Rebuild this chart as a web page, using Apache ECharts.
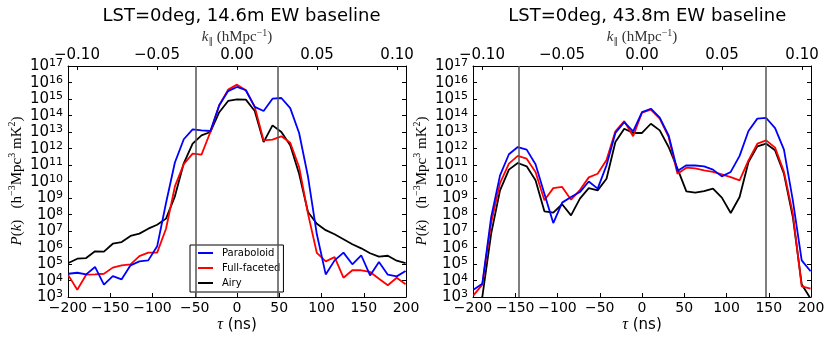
<!DOCTYPE html>
<html>
<head>
<meta charset="utf-8">
<script src="https://cdn.jsdelivr.net/npm/echarts@6/dist/echarts.min.js"></script>
<style>
    html, body { margin: 0; padding: 0; background: #fff; }
    #chart { width: 831px; height: 340px; }
</style>
</head>
<body>
<div id="chart"></div>
<script type="text/javascript">
    // delay samples, ns
    var tau = [-199.5, -189, -178.5, -168, -157.5, -147, -136.5, -126, -115.5, -105,
               -94.5, -84, -73.5, -63, -52.5, -42, -31.5, -21, -10.5, 0,
               10.5, 21, 31.5, 42, 52.5, 63, 73.5, 84, 94.5, 105,
               115.5, 126, 136.5, 147, 157.5, 168, 178.5, 189, 199.5];

    // log10 P(k), 14.6m EW baseline
    var para14 = [4.41, 4.47, 4.37, 4.82, 3.75, 4.27, 4.07, 4.92, 5.16, 5.22,
                  6.07, 8.7, 11.15, 12.56, 13.16, 13.1, 13.06, 14.62, 15.48, 15.73,
                  15.53, 14.52, 14.27, 15.02, 15.06, 14.45, 12.94, 10.3, 6.8, 4.37,
                  5.22, 5.69, 4.98, 5.53, 4.31, 5.12, 4.35, 4.25, 4.58];
    var full14 = [4.31, 3.44, 4.35, 4.37, 4.41, 4.78, 4.92, 4.98, 5.48, 5.69,
                  5.69, 7.14, 9.7, 11.05, 11.69, 11.63, 13.0, 14.62, 15.57, 15.87,
                  15.53, 14.52, 12.49, 12.54, 12.74, 12.35, 10.88, 8.05, 5.67, 5.16,
                  5.42, 4.17, 4.62, 4.62, 4.52, 4.11, 3.71, 4.17, 3.77];
    var airy14 = [5.06, 5.32, 5.36, 5.77, 5.75, 6.23, 6.33, 6.7, 6.84, 7.14,
                  7.38, 7.75, 9.1, 11.1, 12.3, 12.8, 13.0, 14.2, 14.88, 14.98,
                  14.96, 14.27, 12.39, 13.4, 13.0, 12.2, 10.47, 8.15, 7.44, 7.05,
                  6.8, 6.5, 6.2, 5.95, 5.65, 5.45, 5.5, 5.2, 5.05];

    // log10 P(k), 43.8m EW baseline
    var para44 = [3.44, 3.8, 7.84, 10.37, 11.65, 12.09, 11.93, 11.04, 9.26, 7.48,
                  8.72, 9.06, 9.36, 10.0, 9.57, 10.98, 12.94, 13.6, 13.04, 14.21,
                  14.41, 13.87, 12.8, 10.64, 10.98, 10.97, 10.92, 10.72, 10.31, 10.58,
                  11.55, 13.06, 13.81, 13.85, 13.24, 11.93, 8.86, 5.22, 4.56];
    var full44 = [3.1, 3.75, 7.5, 9.9, 11.08, 11.55, 11.38, 10.58, 8.86, 9.6,
                  9.67, 8.9, 9.48, 10.25, 10.47, 11.3, 13.04, 13.66, 12.74, 14.17,
                  14.35, 13.81, 12.7, 10.47, 10.84, 10.8, 10.68, 10.58, 10.43, 10.27,
                  10.07, 11.28, 12.29, 12.49, 12.05, 10.58, 8.05, 3.65, 3.51];
    var airy44 = [1.0, 3.0, 6.84, 9.46, 10.72, 11.12, 10.92, 10.07, 8.19, 8.11,
                  8.62, 7.95, 8.96, 9.6, 9.46, 10.17, 12.39, 13.2, 12.94, 12.94,
                  13.5, 13.1, 12.09, 10.78, 9.4, 9.32, 9.42, 9.57, 9.02, 8.09,
                  9.06, 11.18, 12.13, 12.29, 11.89, 10.47, 7.85, 3.77, 2.9];

    // top axis ticks, k_par in h/Mpc, and the delay that maps to k = 1
    var kTicks = [-0.10, -0.05, 0.00, 0.05, 0.10];
    var nsPerK = 1894;
    // horizon delays of the two baselines
    var horizon14 = 48.7;
    var horizon44 = 146;

    var names = ['Paraboloid', 'Full-faceted', 'Airy'];
    var colors = ['#0000ff', '#ff0000', '#000000'];

    var sans = 'DejaVu Sans';
    var serif = 'Liberation Serif';

    function pairs(vals) {
        return tau.map(function (t, i) { return [t, vals[i]]; });
    }
    function minus(s) {
        return String(s).replace('-', '\u2212');
    }

    var tickStyle = { show: true, inside: true, length: 4, lineStyle: { color: '#000' } };
    var lineAxis = { show: true, onZero: false, lineStyle: { color: '#000', width: 1 } };

    function bottomAxis(grid) {
        return {
            type: 'value', gridIndex: grid, position: 'bottom', min: -200, max: 200, interval: 50,
            axisLine: lineAxis, axisTick: tickStyle, splitLine: { show: false },
            axisLabel: { margin: 4, fontSize: 14, fontFamily: sans, color: '#000',
                showMinLabel: true, showMaxLabel: true,
                formatter: function (v) { return minus(v); } },
            name: '{i|\u03c4}{n| (ns)}', nameLocation: 'middle', nameGap: 20, nameMoveOverlap: false,
            nameTextStyle: { rich: {
                i: { fontFamily: serif, fontStyle: 'italic', fontSize: 16, color: '#000' },
                n: { fontFamily: sans, fontSize: 15, color: '#000' } } }
        };
    }
    function topAxis(grid) {
        return {
            type: 'value', gridIndex: grid, position: 'top',
            min: -200 / nsPerK, max: 200 / nsPerK,
            axisLine: lineAxis, splitLine: { show: false },
            axisTick: { show: true, inside: true, length: 4, customValues: kTicks, lineStyle: { color: '#000' } },
            axisLabel: { margin: 3, fontSize: 15, fontFamily: sans, color: '#000', customValues: kTicks,
                formatter: function (v) { return minus(v.toFixed(2)); } },
            name: '{i|k}{sub|\u2225}{n| (hMpc}{s|\u22121}{n|)}', nameLocation: 'middle', nameGap: 20,
            nameMoveOverlap: false,
            nameTextStyle: { lineHeight: 18, rich: {
                i: { fontFamily: serif, fontStyle: 'italic', fontSize: 15, color: '#333', lineHeight: 18, verticalAlign: 'middle' },
                sub: { fontFamily: sans, fontSize: 9, color: '#333', lineHeight: 9, verticalAlign: 'bottom' },
                n: { fontFamily: serif, fontSize: 15, color: '#333', lineHeight: 18, verticalAlign: 'middle' },
                s: { fontFamily: serif, fontSize: 10, color: '#333', lineHeight: 10, verticalAlign: 'top' } } }
        };
    }
    function leftAxis(grid) {
        return {
            type: 'value', gridIndex: grid, position: 'left', min: 3, max: 17, interval: 1,
            axisLine: lineAxis, axisTick: tickStyle, splitLine: { show: false },
            axisLabel: { margin: 5, color: '#000', showMinLabel: true, showMaxLabel: true,
                formatter: function (v) { return '{b|10}{s|' + v + '}'; },
                rich: {
                    b: { fontFamily: sans, fontSize: 15, lineHeight: 16, verticalAlign: 'bottom', color: '#000' },
                    s: { fontFamily: sans, fontSize: 11, lineHeight: 11, verticalAlign: 'top', color: '#000' } } }
        };
    }
    function rightAxis(grid) {
        return {
            type: 'value', gridIndex: grid, position: 'right', min: 3, max: 17, interval: 1,
            axisLine: lineAxis, axisTick: tickStyle, splitLine: { show: false },
            axisLabel: { show: false }
        };
    }

    // rotated P(k) label beside each panel
    function yTitle(x) {
        return {
            type: 'text', x: x, y: 181, rotation: Math.PI / 2, z: 10,
            style: {
                text: '{i|P}{n|(}{i|k}{n|)   (h}{s|\u22123}{n|Mpc}{s|3}{n| mK}{s|2}{n|)}',
                align: 'center', verticalAlign: 'middle',
                rich: {
                    i: { fontFamily: serif, fontStyle: 'italic', fontSize: 15, fill: '#000', lineHeight: 18, verticalAlign: 'bottom' },
                    n: { fontFamily: serif, fontSize: 15, fill: '#000', lineHeight: 18, verticalAlign: 'bottom' },
                    s: { fontFamily: serif, fontSize: 10, fill: '#000', lineHeight: 10, verticalAlign: 'top' }
                }
            }
        };
    }

    function panelSeries(axis, data, horizon) {
        return data.map(function (vals, i) {
            var s = {
                name: names[i], type: 'line', xAxisIndex: axis, yAxisIndex: axis,
                data: pairs(vals), symbol: 'none', clip: true, animation: false,
                lineStyle: { color: colors[i], width: 1.8 }, itemStyle: { color: colors[i] },
                z: 3 - i
            };
            if (i === 0) {
                s.markLine = {
                    silent: true, symbol: 'none', animation: false, label: { show: false },
                    lineStyle: { color: '#555', width: 1.5, type: 'solid' },
                    data: [{ xAxis: -horizon }, { xAxis: horizon }]
                };
            }
            return s;
        });
    }

    var chart = echarts.init(document.getElementById('chart'));
    chart.setOption({
        backgroundColor: '#fff',
        animation: false,
        title: [
            { text: 'LST=0deg, 14.6m EW baseline', left: 236.5, top: 2, textAlign: 'center',
              textStyle: { fontFamily: sans, fontSize: 18, fontWeight: 'normal', color: '#000' } },
            { text: 'LST=0deg, 43.8m EW baseline', left: 642.3, top: 2, textAlign: 'center',
              textStyle: { fontFamily: sans, fontSize: 18, fontWeight: 'normal', color: '#000' } }
        ],
        grid: [
            { left: 68, top: 66, width: 338, height: 231 },
            { left: 473, top: 66, width: 338, height: 231 }
        ],
        graphic: [yTitle(16), yTitle(421)],
        legend: {
            data: names, orient: 'vertical', left: 190, top: 245,
            padding: [2, 3, 3, 7], itemGap: 3, itemWidth: 15, itemHeight: 12,
            borderColor: '#000', borderWidth: 1, borderRadius: 0, backgroundColor: '#fff',
            itemStyle: { opacity: 0, borderWidth: 0 },
            lineStyle: { width: 2 },
            textStyle: { fontFamily: sans, fontSize: 10, color: '#000', lineHeight: 12, padding: [0, 0, 0, 4] },
            selectedMode: false
        },
        xAxis: [bottomAxis(0), topAxis(0), bottomAxis(1), topAxis(1)],
        yAxis: [leftAxis(0), rightAxis(0), leftAxis(1), rightAxis(1)],
        series: panelSeries(0, [para14, full14, airy14], horizon14)
            .concat(panelSeries(2, [para44, full44, airy44], horizon44))
    });
</script>
</body>
</html>
